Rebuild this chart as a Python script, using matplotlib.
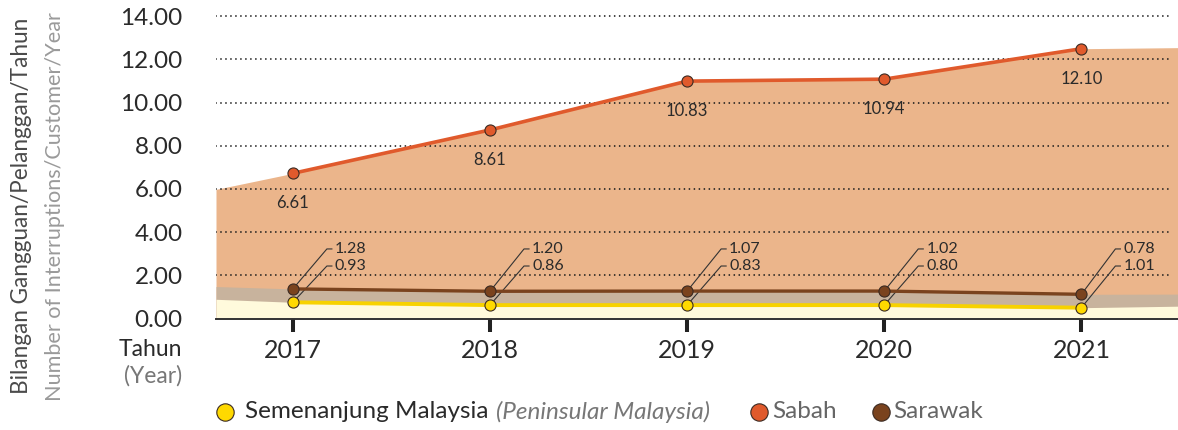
import matplotlib
matplotlib.use("Agg")
import matplotlib.pyplot as plt
from matplotlib.lines import Line2D

# ---------------- data ----------------
years = [2017, 2018, 2019, 2020, 2021]
sabah = [6.72, 8.73, 10.99, 11.08, 12.49]
sarawak = [1.37, 1.26, 1.27, 1.27, 1.12]
peninsular = [0.75, 0.62, 0.62, 0.62, 0.50]

sabah_labels = ["6.61", "8.61", "10.83", "10.94", "12.10"]
sarawak_labels = ["1.28", "1.20", "1.07", "1.02", "0.78"]
peninsular_labels = ["0.93", "0.86", "0.83", "0.80", "1.01"]

# shaded band heights where they meet the left / right plot border
sabah_edges = [5.98, 12.54]
sarawak_edges = [1.48, 1.13]
peninsular_edges = [0.89, 0.57]

yticks = [0, 2, 4, 6, 8, 10, 12, 14]
ytick_labels = ["0.00", "2.00", "4.00", "6.00", "8.00", "10.00", "12.00", "14.00"]
year_labels = ["2017", "2018", "2019", "2020", "2021"]

ytitle_ms = "Bilangan Gangguan/Pelanggan/Tahun"
ytitle_en = "Number of Interruptions/Customer/Year"
legend_names = ["Semenanjung Malaysia", "(Peninsular Malaysia)", "Sabah", "Sarawak"]

# ---------------- style ----------------
FONT = ["Lato", "DejaVu Sans"]
plt.rcParams["font.family"] = FONT

c_sabah_line = "#e05a2c"
c_sabah_area = "#ebb58b"
c_sar_line = "#7a431e"
c_sar_area = "#c8b39d"
c_pen_line = "#f7d200"
c_pen_mark = "#ffd900"
c_pen_area = "#fffadc"
c_text = "#2a2a2a"

W, H = 1178, 430
fig = plt.figure(figsize=(W / 100, H / 100), dpi=100)

x_lo, x_hi = 2016.61, 2021.49
y0_px, ytop_px = 318.5, 5.3
ax = fig.add_axes([216 / W, (H - y0_px) / H, 1 - 216 / W, (y0_px - ytop_px) / H])
ax.set_xlim(x_lo, x_hi)
ax.set_ylim(0, 14.5)

xs = [x_lo] + years + [x_hi]
ax.fill_between(xs, 0, [sabah_edges[0]] + sabah + [sabah_edges[1]],
                color=c_sabah_area, lw=0, zorder=1)
ax.fill_between(xs, 0, [sarawak_edges[0]] + sarawak + [sarawak_edges[1]],
                color=c_sar_area, lw=0, zorder=1.1)
ax.fill_between(xs, 0, [peninsular_edges[0]] + peninsular + [peninsular_edges[1]],
                color=c_pen_area, lw=0, zorder=1.2)

for v in yticks[1:]:
    ax.axhline(v, xmax=0.992, color="#1a1a1a", lw=1.3, linestyle=(0, (0.01, 2.75)),
               dash_capstyle="round", zorder=2)

ms = 8.0
ax.plot(years, sabah, color=c_sabah_line, lw=2.6, zorder=4,
        marker="o", ms=ms, mfc=c_sabah_line, mec="#3a2a22", mew=0.8)
ax.plot(years, sarawak, color=c_sar_line, lw=2.4, zorder=4,
        marker="o", ms=ms, mfc=c_sar_line, mec="#3a2a22", mew=0.8)
ax.plot(years, peninsular, color=c_pen_line, lw=2.8, zorder=4.1,
        marker="o", ms=ms, mfc=c_pen_mark, mec="#3a2a22", mew=0.8)

# Sabah value labels (below points)
for x, y, s in zip(years, sabah, sabah_labels):
    ax.annotate(s, (x, y), xytext=(0, -30), textcoords="offset pixels",
                ha="center", va="center", fontsize=12, color=c_text, zorder=6)

# Sarawak / Peninsular labels with leader lines
px_per_year = (W - 216) / (x_hi - x_lo)
dx1, dx2, dxt = 34 / px_per_year, 39 / px_per_year, 42 / px_per_year
lab_y_sar, lab_y_pen = 3.22, 2.43
for x, ys, yp, ls, lp in zip(years, sarawak, peninsular, sarawak_labels, peninsular_labels):
    ax.plot([x, x + dx1, x + dx2], [ys, lab_y_sar, lab_y_sar], color="#333333", lw=0.8, zorder=3)
    ax.plot([x, x + dx1, x + dx2], [yp, lab_y_pen, lab_y_pen], color="#333333", lw=0.8, zorder=3)
    ax.text(x + dxt, lab_y_sar, ls, ha="left", va="center", fontsize=11.5, color=c_text, zorder=6)
    ax.text(x + dxt, lab_y_pen, lp, ha="left", va="center", fontsize=11.5, color=c_text, zorder=6)

for side in ["top", "right", "left"]:
    ax.spines[side].set_visible(False)
ax.spines["bottom"].set_color("#333333")
ax.spines["bottom"].set_linewidth(1.4)
ax.spines["bottom"].set_zorder(5)

ax.set_xticks(years)
ax.set_xticklabels(year_labels, fontsize=18, color=c_text)
ax.tick_params(axis="x", length=9.4, width=2.9, color="#222222", pad=5, direction="out")
ax.set_yticks(yticks)
ax.set_yticklabels(ytick_labels, fontsize=17.5, color=c_text)
ax.tick_params(axis="y", length=0, pad=24)

# y titles
fig.text(22 / W, 1 - 206 / H, ytitle_ms, rotation=90, ha="center", va="center",
         fontsize=16.3, color="#4a4a4a")
fig.text(55 / W, 1 - 207 / H, ytitle_en, rotation=90, ha="center", va="center",
         fontsize=15.6, color="#9a9a9a")

# Tahun (Year)
fig.text(182 / W, 1 - 350 / H, "Tahun", ha="right", va="center", fontsize=16.5, color=c_text)
fig.text(182 / W, 1 - 376 / H, "(Year)", ha="right", va="center", fontsize=16.5, color="#777777")

# legend
ly = 1 - 412 / H
def legend_dot(xpx, color):
    fig.add_artist(Line2D([xpx / W], [ly], marker="o", ms=12.5, mfc=color,
                          mec="#3a2a22", mew=0.8, ls="none", transform=fig.transFigure))

legend_dot(225, c_pen_mark)
legend_dot(759, c_sabah_line)
legend_dot(881, c_sar_line)
t1 = fig.text(245 / W, ly, legend_names[0], ha="left", va="center", fontsize=17.5, color=c_text)
fig.canvas.draw()
bb = t1.get_window_extent()
fig.text((bb.x1 + 7) / W, ly, legend_names[1], ha="left", va="center", fontsize=17.5,
         color="#777777", style="italic")
fig.text(772 / W, ly, legend_names[2], ha="left", va="center", fontsize=17.5, color="#666666")
fig.text(893 / W, ly, legend_names[3], ha="left", va="center", fontsize=17.5, color="#666666")

fig.savefig("out.png", dpi=100)
